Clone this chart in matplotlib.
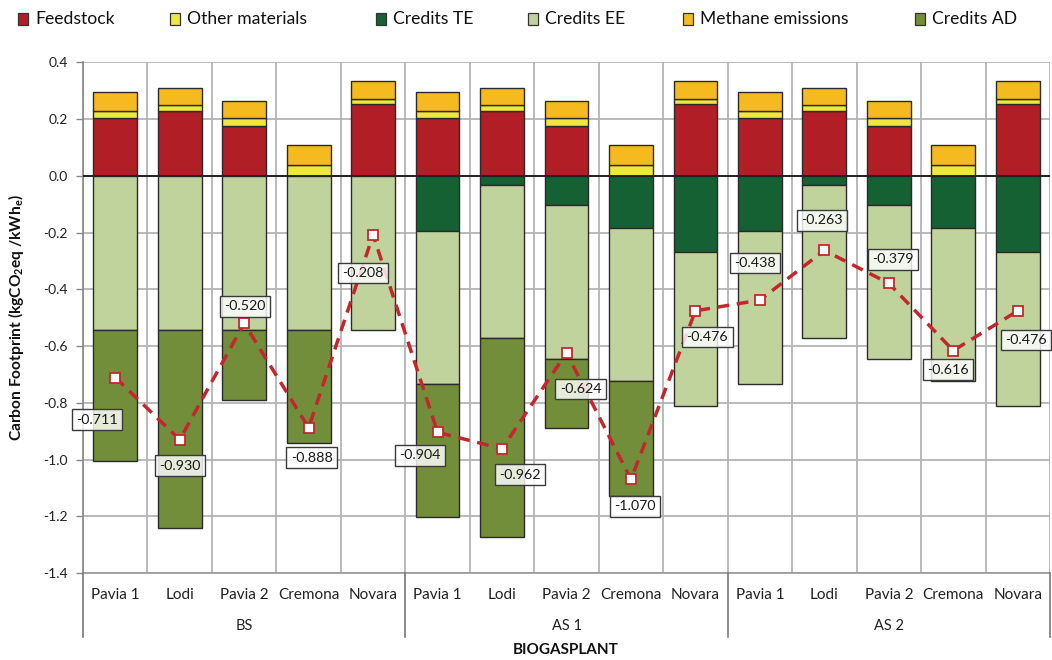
import matplotlib
matplotlib.use("Agg")
import matplotlib.pyplot as plt
from matplotlib.patches import Rectangle
import matplotlib.transforms as mtransforms

plt.rcParams['font.family'] = ['Lato', 'DejaVu Sans']
plt.rcParams['mathtext.fontset'] = 'custom'
plt.rcParams['mathtext.rm'] = 'Lato'
plt.rcParams['mathtext.bf'] = 'Lato:bold'
plt.rcParams['mathtext.it'] = 'Lato:italic'

# ---------------- data ----------------
plants = ["Pavia 1", "Lodi", "Pavia 2", "Cremona", "Novara"]
scenarios = ["BS", "AS 1", "AS 2"]

feedstock = [0.205, 0.230, 0.177, 0.000, 0.252,
             0.205, 0.230, 0.177, 0.000, 0.252,
             0.205, 0.230, 0.177, 0.000, 0.252]
other_materials = [0.022, 0.021, 0.025, 0.038, 0.017,
                   0.022, 0.021, 0.025, 0.038, 0.017,
                   0.022, 0.021, 0.025, 0.038, 0.017]
methane = [0.068, 0.058, 0.063, 0.069, 0.066,
           0.068, 0.058, 0.063, 0.069, 0.066,
           0.068, 0.058, 0.063, 0.069, 0.066]
credits_te = [0.000, 0.000, 0.000, 0.000, 0.000,
              -0.196, -0.033, -0.103, -0.183, -0.268,
              -0.196, -0.033, -0.103, -0.183, -0.268]
credits_ee = [-0.542, -0.542, -0.542, -0.542, -0.542,
              -0.537, -0.539, -0.541, -0.540, -0.542,
              -0.537, -0.539, -0.541, -0.540, -0.542]
credits_ad = [-0.465, -0.698, -0.247, -0.400, 0.000,
              -0.468, -0.701, -0.246, -0.404, 0.000,
              0.000, 0.000, 0.000, 0.000, 0.000]
net_footprint = [-0.711, -0.930, -0.520, -0.888, -0.208,
                 -0.904, -0.962, -0.624, -1.070, -0.476,
                 -0.438, -0.263, -0.379, -0.616, -0.476]

# label offsets (pixels, right / down) relative to the marker
label_offsets = [(-18, 42), (0, 26), (1, -17), (3, 30), (-10, 38),
                 (-18, 23), (18, 26), (14, 36), (4, 27), (12, 26),
                 (-5, -37), (-2, -30), (4, -24), (-5, 19), (8, 29)]

colors = {
    "Feedstock": "#B21E25",
    "Other materials": "#ECE83C",
    "Credits TE": "#156134",
    "Credits EE": "#C0D39D",
    "Methane emissions": "#F4BA1F",
    "Credits AD": "#728E3A",
}
line_color = "#C3272E"

# ---------------- figure ----------------
W, H = 1052, 660
fig = plt.figure(figsize=(W / 100, H / 100), dpi=100)
ax = fig.add_axes([83 / W, 1 - 573 / H, (1050 - 83) / W, (573 - 62.3) / H])

n = len(feedstock)
xs = list(range(n))
bw = 0.68
edge = dict(edgecolor="#2a2a2a", linewidth=1.0)


def draw(values, bottoms, color):
    xi = [x for x, v in zip(xs, values) if v != 0]
    vi = [v for v in values if v != 0]
    bi = [b for b, v in zip(bottoms, values) if v != 0]
    ax.bar(xi, vi, bw, bottom=bi, color=color, zorder=3, **edge)


zeros = [0.0] * n
pos1 = feedstock
pos2 = [a + b for a, b in zip(feedstock, other_materials)]
draw(feedstock, zeros, colors["Feedstock"])
draw(other_materials, pos1, colors["Other materials"])
draw(methane, pos2, colors["Methane emissions"])
neg1 = credits_te
neg2 = [a + b for a, b in zip(credits_te, credits_ee)]
draw(credits_te, zeros, colors["Credits TE"])
draw(credits_ee, neg1, colors["Credits EE"])
draw(credits_ad, neg2, colors["Credits AD"])

ax.axhline(0, color="#222222", lw=1.4, zorder=4)

ax.plot(xs, net_footprint, color=line_color, lw=2.5, ls=(0, (3.4, 2.2)),
        marker="s", ms=7, mfc="white", mec=line_color, mew=1.3, zorder=6)

for x, v, (dx, dy) in zip(xs, net_footprint, label_offsets):
    ax.annotate(f"{v:.3f}", xy=(x, v), xytext=(dx * 0.72, -dy * 0.72),
                textcoords="offset points", ha="center", va="center",
                fontsize=10.3, color="#1a1a1a", zorder=7,
                bbox=dict(boxstyle="square,pad=0.3", fc=(1, 1, 1, 0.82),
                          ec="#3a3a3a", lw=1.0))

# axes
ax.set_xlim(-0.5, n - 0.5)
ax.set_ylim(-1.4, 0.4)
ax.set_yticks([0.4, 0.2, 0.0, -0.2, -0.4, -0.6, -0.8, -1.0, -1.2, -1.4])
ax.set_yticklabels([f"{t:.1f}" for t in ax.get_yticks()], fontsize=10, color="#222222")
ax.tick_params(axis="y", length=5, width=1, color="#888888", pad=6)
ax.set_xticks(xs)
ax.set_xticklabels([p for s in scenarios for p in plants], fontsize=11, color="#222222")
ax.tick_params(axis="x", length=0, pad=11)
ax.set_xticks([i - 0.5 for i in range(n + 1)], minor=True)
ax.tick_params(axis="x", which="minor", length=0)
ax.grid(True, axis="y", which="major", color="#b4b4b4", lw=1.3, zorder=0)
ax.grid(True, axis="x", which="minor", color="#b4b4b4", lw=1.3, zorder=0)
for s in ["top", "right"]:
    ax.spines[s].set_visible(False)
ax.spines["left"].set_color("#888888")
ax.spines["bottom"].set_color("#999999")
ax.spines["left"].set_linewidth(1.2)
ax.spines["bottom"].set_linewidth(1.2)

ax.set_ylabel(r"Carbon Footprint (kgCO$_\mathbf{2}$eq /kWh$_\mathbf{e}$)",
              fontsize=11.2, fontweight="bold", color="#111111")
ax.yaxis.set_label_coords(-0.059, 0.5)

# grouped category axis
trans = mtransforms.blended_transform_factory(ax.transData, ax.transAxes)
for b in [-0.5, 4.5, 9.5, 14.5]:
    ax.plot([b, b], [0, -0.125], transform=trans, color="#777777", lw=1.2,
            clip_on=False, zorder=5)
for gi, s in enumerate(scenarios):
    ax.text(gi * 5 + 2, -0.104, s, transform=trans, ha="center", va="center",
            fontsize=10.5, color="#222222")

fig.text(566 / W, 1 - 650 / H, "BIOGASPLANT", ha="center", va="center",
         fontsize=11, fontweight="bold", color="#111111")

# legend (manual placement)
legend_x = [18, 170, 376, 528, 683, 915]
for lx, (name, col) in zip(legend_x, colors.items()):
    fig.add_artist(Rectangle((lx / W, 1 - 25 / H), 10 / W, 12 / H,
                             transform=fig.transFigure, facecolor=col,
                             edgecolor="#333333", lw=0.9))
    fig.text((lx + 17) / W, 1 - 19.5 / H, name, ha="left", va="center",
             fontsize=12.6, color="#111111")

fig.savefig("out.png", dpi=100)
